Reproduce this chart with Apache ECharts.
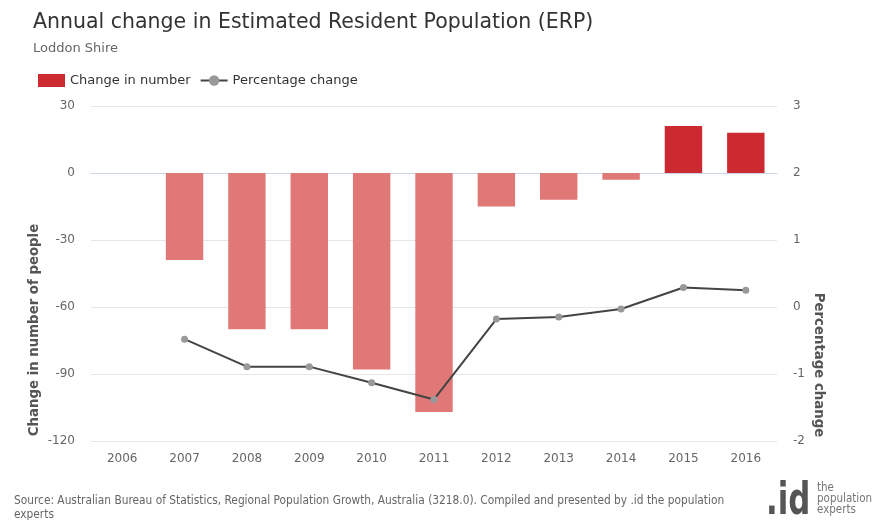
<!DOCTYPE html>
<html>
<head>
<meta charset="utf-8">
<script src="https://cdn.jsdelivr.net/npm/echarts@6/dist/echarts.min.js"></script>
<style>html,body{margin:0;padding:0;background:#fff}#c{width:883px;height:520px}</style>
</head>
<body>
<div id="c"></div>
<script>
var years = ['2006','2007','2008','2009','2010','2011','2012','2013','2014','2015','2016'];
var changeNumber = [null, -39, -70, -70, -88, -107, -15, -12, -3, 21, 18];
var changePercent = [null, -0.48, -0.89, -0.89, -1.13, -1.38, -0.18, -0.15, -0.03, 0.29, 0.25];
var leftTicks = [-120, -90, -60, -30, 0, 30];
var rightTicks = [-2, -1, 0, 1, 2, 3];

var FONT = 'DejaVu Sans';
var chart = echarts.init(document.getElementById('c'), null, {renderer: 'canvas'});
chart.setOption({
  animation: false,
  backgroundColor: '#fff',
  textStyle: {fontFamily: FONT},
  title: {
    text: 'Annual change in Estimated Resident Population (ERP)',
    subtext: 'Loddon Shire',
    left: 28, top: 7,
    itemGap: 9,
    textStyle: {fontFamily: FONT, fontSize: 20.5, fontWeight: 'normal', color: '#333'},
    subtextStyle: {fontFamily: FONT, fontSize: 13, color: '#666'}
  },
  legend: {
    left: 33, top: 69,
    itemWidth: 27, itemHeight: 13, itemGap: 9,
    textStyle: {fontFamily: FONT, fontSize: 13, color: '#333'},
    data: [
      {name: 'Change in number', icon: 'rect', itemStyle: {color: '#cc2a30'}},
      {name: 'Percentage change'}
    ]
  },
  grid: {left: 91, right: 106, top: 106, bottom: 79},
  xAxis: {
    type: 'category',
    data: years,
    axisLine: {lineStyle: {color: '#ccd6eb', width: 1}},
    axisTick: {alignWithLabel: true, length: 10, lineStyle: {color: '#ccd6eb'}},
    axisLabel: {color: '#666', fontSize: 12, margin: 12, fontFamily: FONT}
  },
  yAxis: [
    {
      type: 'value', min: leftTicks[0], max: leftTicks[leftTicks.length-1], interval: 30,
      axisLine: {show: false}, axisTick: {show: false},
      axisLabel: {color: '#666', fontSize: 12, margin: 16, fontFamily: FONT},
      splitLine: {lineStyle: {color: '#e6e6e6'}}
    },
    {
      type: 'value', min: rightTicks[0], max: rightTicks[rightTicks.length-1], interval: 1,
      axisLine: {show: false}, axisTick: {show: false},
      axisLabel: {color: '#666', fontSize: 12, margin: 16, fontFamily: FONT},
      splitLine: {show: false}
    }
  ],
  series: [
    {
      name: 'Change in number',
      type: 'bar',
      yAxisIndex: 0,
      data: changeNumber,
      barWidth: '60%',
      itemStyle: {
        color: function (p) { return p.value >= 0 ? '#cc2a30' : '#e07878'; }
      }
    },
    {
      name: 'Percentage change',
      type: 'line',
      yAxisIndex: 1,
      data: changePercent,
      symbol: 'circle', symbolSize: 7,
      lineStyle: {color: '#444', width: 2},
      itemStyle: {color: '#999'},
      z: 5
    }
  ],
  graphic: [
    {type: 'text', x: 35, y: 330, rotation: Math.PI/2,
     style: {text: 'Change in number of people', font: 'bold 13.3px "DejaVu Sans"', fill: '#555', textAlign: 'center', textVerticalAlign: 'middle'}},
    {type: 'text', x: 818, y: 365, rotation: -Math.PI/2,
     style: {text: 'Percentage change', font: 'bold 13.3px "DejaVu Sans"', fill: '#555', textAlign: 'center', textVerticalAlign: 'middle'}},
    {type: 'text', x: 14, y: 494,
     style: {text: 'Source: Australian Bureau of Statistics, Regional Population Growth, Australia (3218.0). Compiled and presented by .id the population\nexperts', font: '11.8px "DejaVu Sans Condensed"', fill: '#666', lineHeight: 14}},
    {type: 'text', x: 766, y: 525, scaleX: 0.7,
     style: {text: '.id', font: 'bold 44px "DejaVu Sans"', fill: '#555', textVerticalAlign: 'bottom'}},
    {type: 'text', x: 817, y: 483,
     style: {text: 'the\npopulation\nexperts', font: '11.5px "DejaVu Sans Condensed"', fill: '#777', lineHeight: 11}}
  ]
});
</script>
</body>
</html>
